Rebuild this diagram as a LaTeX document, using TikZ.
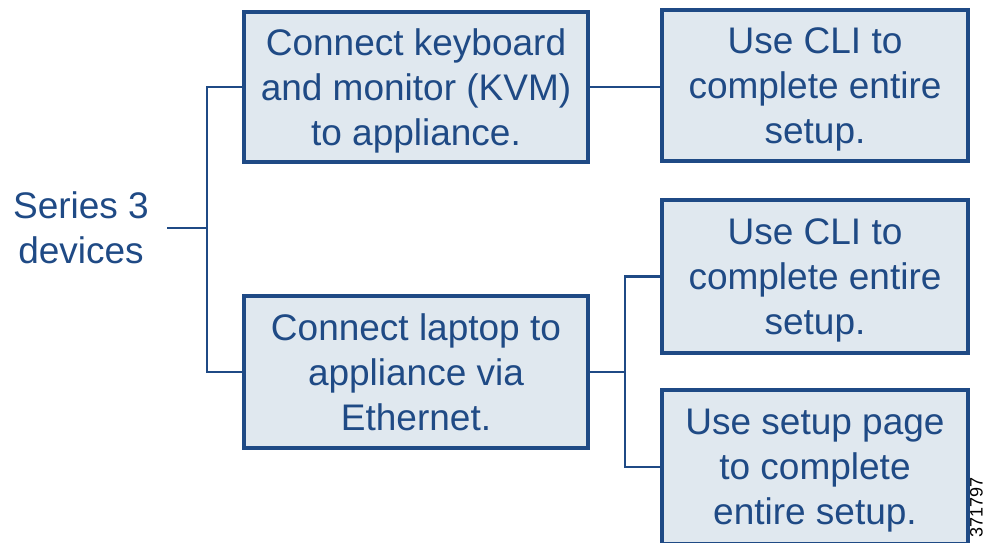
\documentclass[tikz,border=0pt]{standalone}
\usepackage{fontspec}
\setmainfont{Liberation Sans}
\definecolor{cblue}{HTML}{1F4A85}
\definecolor{cfill}{HTML}{E0E8EF}
\begin{document}
\begin{tikzpicture}[x=1pt,y=-1pt,
  boxnode/.style={draw=cblue,fill=cfill,line width=4pt,text=cblue,align=center,
    font=\fontsize{37}{45}\selectfont,inner sep=0pt,text depth=0pt},
  conn/.style={draw=cblue,line width=2.5pt}]
\useasboundingbox (0,0) rectangle (987,542);
\node[text=cblue,align=center,font=\fontsize{37}{45}\selectfont,inner ysep=0pt,inner xsep=18pt] (s) at (81,228) {Series 3\\devices};
\node[boxnode,minimum width=344pt,minimum height=150pt] (a) at (416,87) {Connect keyboard\\and monitor (KVM)\\to appliance.};
\node[boxnode,minimum width=306pt,minimum height=151pt] (b) at (815,85.5) {Use CLI to\\complete entire\\setup.};
\node[boxnode,minimum width=344pt,minimum height=152pt] (c) at (416,372) {Connect laptop to\\appliance via\\Ethernet.};
\node[boxnode,minimum width=306pt,minimum height=153pt] (d) at (815,276.5) {Use CLI to\\complete entire\\setup.};
\node[boxnode,minimum width=306pt,minimum height=154pt] (e) at (815,467) {Use setup page\\to complete\\entire setup.};
\coordinate (j1) at (207,228);
\coordinate (j2) at (625,372);
\draw[conn] (s.east) -- (j1);
\draw[conn] (a.west) -| (j1) |- (c.west);
\draw[conn] (a.east) -- (a.east -| b.west);
\draw[conn] (c.east) -- (j2);
\draw[conn] (d.west) -| (j2) |- (e.west);
\node[rotate=90,anchor=south west,font=\fontsize{18}{18}\selectfont,inner sep=0pt] (id) at (983,538) {371797};
\end{tikzpicture}
\end{document}
